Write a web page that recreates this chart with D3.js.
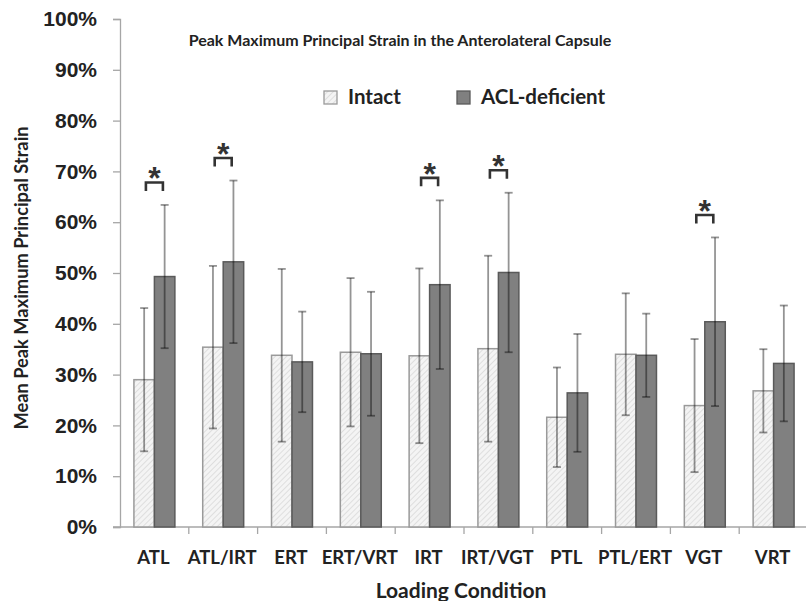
<!DOCTYPE html>
<html>
<head>
<meta charset="utf-8">
<script src="https://cdn.jsdelivr.net/npm/d3@7"></script>
<style>
  body { margin: 0; background: #fff; }
  svg { display: block; }
</style>
</head>
<body>
<script>
// data (percent)
const categories = ['ATL', 'ATL/IRT', 'ERT', 'ERT/VRT', 'IRT', 'IRT/VGT', 'PTL', 'PTL/ERT', 'VGT', 'VRT']
const intactMean = [29.0, 35.4, 33.8, 34.4, 33.7, 35.1, 21.6, 34.0, 23.9, 26.8]
const intactSD = [14.1, 16.0, 17.0, 14.6, 17.2, 18.3, 9.8, 12.0, 13.1, 8.2]
const aclMean = [49.3, 52.2, 32.5, 34.1, 47.7, 50.1, 26.4, 33.8, 40.4, 32.2]
const aclSD = [14.1, 16.0, 9.9, 12.2, 16.6, 15.7, 11.6, 8.2, 16.6, 11.4]
const significant = ['ATL', 'ATL/IRT', 'IRT', 'IRT/VGT', 'VGT']
const series = ['Intact', 'ACL-deficient']
const yTicks = [0, 10, 20, 30, 40, 50, 60, 70, 80, 90, 100]

const width = 806
const height = 601
const plotL = 120, plotR = 808, plotT = 19, plotB = 527

const svg = d3.select('body').append('svg').attr('width', width).attr('height', height)

// hatch for intact bars
const defs = svg.append('defs')
const pat = defs.append('pattern')
  .attr('id', 'hatch')
  .attr('patternUnits', 'userSpaceOnUse')
  .attr('width', 4).attr('height', 4)
  .attr('patternTransform', 'rotate(45)')
pat.append('rect').attr('width', 4).attr('height', 4).attr('fill', '#f4f4f4')
pat.append('line').attr('x1', 0).attr('y1', 0).attr('x2', 0).attr('y2', 4)
  .attr('stroke', '#cfcfcf').attr('stroke-width', 1.2)

const x = d3.scaleBand().domain(categories).range([plotL, plotR])
const xs = d3.scaleBand().domain(series).range([0, x.bandwidth()]).paddingInner(0).paddingOuter(0.68)
const y = d3.scaleLinear().domain([0, 100]).range([plotB, plotT])

const rows = categories.map((c, i) => ({
  cat: c,
  vals: [
    { key: 'Intact', mean: intactMean[i], sd: intactSD[i] },
    { key: 'ACL-deficient', mean: aclMean[i], sd: aclSD[i] },
  ],
}))

// y axis
const yAxis = svg.append('g')
  .attr('transform', `translate(${plotL},0)`)
  .call(d3.axisLeft(y).tickValues(yTicks).tickFormat((d) => d + '%').tickSize(7).tickPadding(16))
yAxis.select('.domain').attr('stroke', '#a6a6a6').attr('stroke-width', 1.3)
yAxis.selectAll('.tick line').attr('stroke', '#a6a6a6').attr('stroke-width', 1.3)
yAxis.selectAll('.tick text')
  .attr('font-family', 'Liberation Sans, Arial, sans-serif')
  .attr('font-weight', 'bold')
  .attr('font-size', 21)
  .attr('fill', '#222')

// x axis
const xAxis = svg.append('g').attr('transform', `translate(0,${plotB})`)
xAxis.append('line').attr('x1', plotL - 7).attr('x2', width).attr('y1', 0).attr('y2', 0)
  .attr('stroke', '#a6a6a6').attr('stroke-width', 1.3)
xAxis.selectAll('.xtick')
  .data(categories.slice(1))
  .enter()
  .append('line')
  .attr('x1', (d) => x(d)).attr('x2', (d) => x(d))
  .attr('y1', 0).attr('y2', 7)
  .attr('stroke', '#a6a6a6').attr('stroke-width', 1.3)
xAxis.selectAll('.xlabel')
  .data(categories)
  .enter()
  .append('text')
  .attr('x', (d) => x(d) + x.bandwidth() / 2 - 1)
  .attr('y', 37)
  .attr('text-anchor', 'middle')
  .attr('font-family', 'Lato, sans-serif')
  .attr('font-weight', 'bold')
  .attr('font-size', 18.5)
  .attr('fill', '#222')
  .text((d) => d)

// bars
const groups = svg.selectAll('.grp')
  .data(rows)
  .enter()
  .append('g')
  .attr('transform', (d) => `translate(${x(d.cat)},0)`)

groups.selectAll('rect')
  .data((d) => d.vals)
  .enter()
  .append('rect')
  .attr('x', (d) => xs(d.key))
  .attr('y', (d) => y(d.mean))
  .attr('width', xs.bandwidth())
  .attr('height', (d) => y(0) - y(d.mean))
  .attr('fill', (d) => (d.key === 'Intact' ? 'url(#hatch)' : '#808080'))
  .attr('stroke', (d) => (d.key === 'Intact' ? '#9a9a9a' : '#5a5a5a'))
  .attr('stroke-width', 1.5)

// error bars
const err = groups.selectAll('.err')
  .data((d) => d.vals)
  .enter()
  .append('g')
  .attr('stroke', '#000')
  .attr('stroke-opacity', 0.42)
  .attr('stroke-width', 1.8)
err.append('line')
  .attr('x1', (d) => xs(d.key) + xs.bandwidth() / 2)
  .attr('x2', (d) => xs(d.key) + xs.bandwidth() / 2)
  .attr('y1', (d) => y(d.mean + d.sd))
  .attr('y2', (d) => y(d.mean - d.sd))
err.selectAll('.cap')
  .data((d) => [d.mean + d.sd, d.mean - d.sd].map((v) => ({ v, key: d.key })))
  .enter()
  .append('line')
  .attr('x1', (d) => xs(d.key) + xs.bandwidth() / 2 - 4)
  .attr('x2', (d) => xs(d.key) + xs.bandwidth() / 2 + 4)
  .attr('y1', (d) => y(d.v))
  .attr('y2', (d) => y(d.v))

// significance brackets
const sig = rows.filter((d) => significant.includes(d.cat))
const sg = svg.selectAll('.sig')
  .data(sig)
  .enter()
  .append('g')
  .attr('transform', (d) => {
    const v = d.vals[1]
    return `translate(${x(d.cat) + x.bandwidth() / 2},${y(v.mean + v.sd) - 22.5})`
  })
sg.append('path')
  .attr('d', 'M-8.5,8.5V0H8.5V8.5')
  .attr('fill', 'none')
  .attr('stroke', '#333')
  .attr('stroke-width', 2.6)
sg.append('text')
  .attr('x', 0)
  .attr('y', 7)
  .attr('text-anchor', 'middle')
  .attr('font-family', 'Liberation Sans, Arial, sans-serif')
  .attr('font-weight', 'bold')
  .attr('font-size', 32)
  .attr('fill', '#333')
  .text('*')

// title
svg.append('text')
  .attr('x', 400)
  .attr('y', 46)
  .attr('text-anchor', 'middle')
  .attr('font-family', 'Lato, sans-serif')
  .attr('font-weight', 'bold')
  .attr('font-size', 16)
  .attr('fill', '#222')
  .text('Peak Maximum Principal Strain in the Anterolateral Capsule')

// legend
const legend = svg.append('g')
const legendX = [324, 457]
series.forEach((s, i) => {
  legend.append('rect')
    .attr('x', legendX[i]).attr('y', 91)
    .attr('width', 13).attr('height', 13)
    .attr('fill', i === 0 ? 'url(#hatch)' : '#808080')
    .attr('stroke', i === 0 ? '#9a9a9a' : '#5a5a5a')
    .attr('stroke-width', 1.3)
  legend.append('text')
    .attr('x', legendX[i] + 24).attr('y', 104)
    .attr('font-family', 'Lato, sans-serif')
    .attr('font-weight', 'bold')
    .attr('font-size', 20.5)
    .attr('fill', '#222')
    .text(s)
})

// axis titles
svg.append('text')
  .attr('x', 461)
  .attr('y', 598)
  .attr('text-anchor', 'middle')
  .attr('font-family', 'Lato, sans-serif')
  .attr('font-weight', 'bold')
  .attr('font-size', 21)
  .attr('fill', '#222')
  .text('Loading Condition')

svg.append('text')
  .attr('transform', 'translate(28,278) rotate(-90)')
  .attr('text-anchor', 'middle')
  .attr('font-family', 'Lato, sans-serif')
  .attr('font-weight', 'bold')
  .attr('font-size', 18.3)
  .attr('fill', '#222')
  .text('Mean Peak Maximum Principal Strain')
</script>
</body>
</html>
